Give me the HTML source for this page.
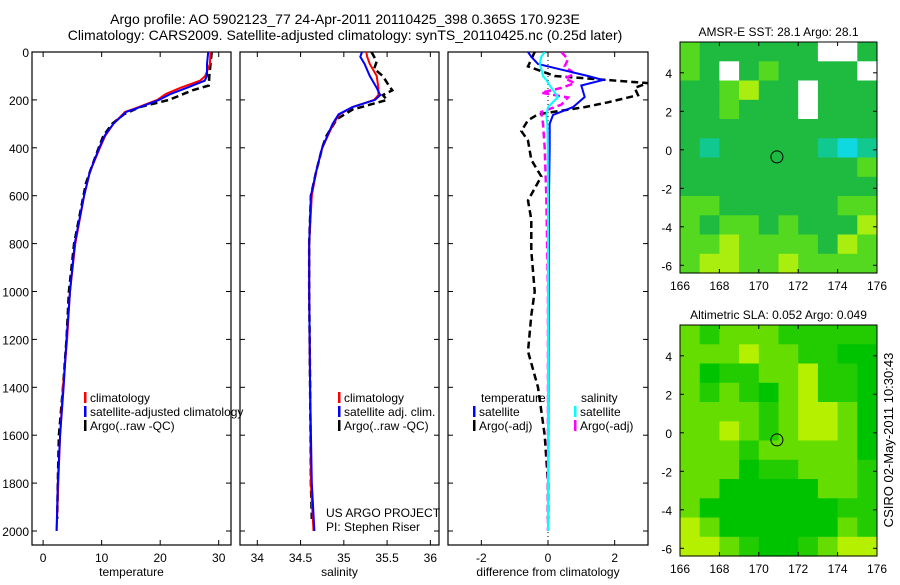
<!DOCTYPE html>
<html><head><meta charset="utf-8">
<style>
body{margin:0;background:#fff;}
svg text{font-family:"Liberation Sans",sans-serif;fill:#000;}
</style></head>
<body>
<svg id="fig" width="900" height="580" xmlns="http://www.w3.org/2000/svg">
<text x="345" y="24" font-size="14" text-anchor="middle">Argo profile: AO 5902123_77 24-Apr-2011 20110425_398 0.365S 170.923E</text>
<text x="345" y="40" font-size="14" text-anchor="middle">Climatology: CARS2009. Satellite-adjusted climatology: synTS_20110425.nc (0.25d later)</text>
<g id="plots"></g>
<text transform="translate(893,440) rotate(-90)" font-size="13" text-anchor="middle">CSIRO 02-May-2011 10:30:43</text>
</svg>
<script>
// ---------------- data ----------------
const depthT = [0,50,100,120,150,175,200,240,250,300,350,400,500,600,800,1000,1200,1400,1600,1800,2000];
const tempClim = [28.6,28.5,27.7,26.8,23.4,21,19.5,15.2,14,12,10.6,9.7,8,7,5.5,4.6,4.1,3.4,2.9,2.6,2.3];
const tempSat  = [28.2,28.0,28.0,27.6,24.5,21.8,19.8,15.4,14.2,12,10.5,9.6,8,7,5.4,4.6,4.0,3.5,2.9,2.5,2.3];
const depthA = [0,50,100,140,160,180,200,230,260,300,350,400,500,550,600,800,1000,1200,1400,1600,1800,1950];
const tempArgo = [28.8,28.6,28.4,28.3,25.5,23.5,21.5,16.5,13.8,11.8,10.3,9.5,8,7.3,6.9,5.3,4.4,4.0,3.4,2.7,2.5,2.4];

const depthS = [0,20,50,100,150,180,200,230,260,300,400,500,600,800,1000,1400,1800,2000];
const salClim = [35.26,35.27,35.3,35.38,35.4,35.4,35.35,35.1,34.95,34.88,34.75,34.68,34.63,34.6,34.6,34.61,34.62,34.65];
const salSat  = [35.21,35.19,35.24,35.3,35.38,35.42,35.36,35.1,34.94,34.87,34.75,34.68,34.62,34.6,34.6,34.61,34.63,34.66];
const depthSA = [0,40,70,100,140,160,180,200,220,240,280,350,400,500,600,800,1000,1400,1800,1950];
const salArgo = [35.32,35.38,35.35,35.45,35.52,35.56,35.45,35.5,35.3,35.1,34.92,34.8,34.75,34.68,34.62,34.6,34.6,34.61,34.62,34.63];

const depthD = [0,20,50,70,100,117,140,188,230,263,300,400,600,1000,1500,2000];
const dTempSat = [-0.6,-0.5,-0.3,0.3,1.2,1.65,1.0,1.1,0.75,0.15,0.05,0.05,0.03,0.02,0.01,0];
const dSalSat  = [-0.1,-0.2,-0.25,-0.2,-0.15,-0.05,0.05,0.3,0.0,-0.05,-0.02,-0.01,0,0,0,0];
const depthDA = [0,60,100,130,150,180,210,230,260,285,330,370,450,520,620,700,830,1000,1100,1250,1400,1600,1800,1950];
const dTempArgo = [-0.4,-0.6,0.2,3.0,2.6,2.7,1.8,1.1,-0.3,-0.6,-0.8,-0.6,-0.5,-0.2,-0.6,-0.5,-0.5,-0.4,-0.5,-0.6,-0.3,-0.1,0,0];
const depthDM = [0,30,60,90,110,130,150,170,190,220,250,300,400,600,1000,1500,2000];
const dSalArgo = [0.4,0.6,0.5,0.8,0.5,0.8,0.4,-0.2,0.6,0.4,-0.2,-0.15,-0.1,-0.05,0,0,0];

const yTicks = [0,200,400,600,800,1000,1200,1400,1600,1800,2000];
const tTicks = [0,10,20,30];
const sTicks = [34,34.5,35,35.5,36];
const sTickLabels = ["34","34.5","35","35.5","36"];
const dTicks = [-2,0,2];
const lonTicks = [166,168,170,172,174,176];
const latTicks = [4,2,0,-2,-4,-6];

const sstGrid = ["lggggggWWg","lgWglggggW","gglyggWggg","gglgggWggg","gggggggggg","gtgggggtct","gggggggggl","gggggggggg","llggggggll","lgllglgggy","llyllllgyl","lyyllyllll"];
const slaGrid = ["lglllggggg","lllyllggGG","lGggllyggG","lglgGlyggG","llllglyylG","llylglyylG","lllglllllG","lllGgglllg","llGGGGGllg","lGGGGGGGgg","ylGGGGGGlg","yylgGGglyy"];
const sstColors = {g:"#1fbb40",l:"#55d820",y:"#aaee10",t:"#10c890",c:"#10d8e0",W:"#ffffff"};
const slaColors = {l:"#66dd00",g:"#22cc00",G:"#00c300",y:"#b4f000"};
const floatPos = [170.92,-0.37];

// ---------------- drawing ----------------
const NS="http://www.w3.org/2000/svg";
const root=document.getElementById('plots');
function el(tag,attrs,parent){const e=document.createElementNS(NS,tag);for(const k in attrs)e.setAttribute(k,attrs[k]);(parent||root).appendChild(e);return e;}
function txt(x,y,s,size,anchor,parent){const t=el('text',{x:x,y:y,'font-size':size,'text-anchor':anchor||'start'},parent);t.textContent=s;return t;}

const Y0=52, Y1=545;
function yScale(d){return 52+d*0.2395;}

function panel(name,left,right,xmin,xmax,ticks,labels,xlabel,showY){
  const g=el('g',{});
  
  
  const xs=v=>left+(v-xmin)/(xmax-xmin)*(right-left);
  const r=el('rect',{x:left,y:Y0,width:right-left,height:Y1-Y0,fill:'none',stroke:'#000','stroke-width':1.2},g);
  
  
  ticks.forEach((v,i)=>{const x=xs(v);
    el('line',{x1:x,y1:Y1,x2:x,y2:Y1-5,stroke:'#000'},g);
    el('line',{x1:x,y1:Y0,x2:x,y2:Y0+5,stroke:'#000'},g);
    const t=txt(x,562,labels[i],12,'middle',g);
    
    
  });
  yTicks.forEach(v=>{const y=yScale(v);
    el('line',{x1:left,y1:y,x2:left+5,y2:y,stroke:'#000'},g);
    el('line',{x1:right,y1:y,x2:right-5,y2:y,stroke:'#000'},g);
    if(showY){const t=txt(left-3,y+5,String(v),12,'end',g);
      
      }
  });
  const xl=txt((left+right)/2,576,xlabel,12,'middle',g);
  
  
  const clip=el('clipPath',{id:'clip-'+name},g);
  el('rect',{x:left,y:Y0,width:right-left,height:Y1-Y0},clip);
  const lines=el('g',{'clip-path':'url(#clip-'+name+')'},g);
  return {xs:xs,g:g,lines:lines};
}
function series(p,depths,vals,color,dash,name){
  const pts=depths.map((d,i)=>p.xs(vals[i]).toFixed(1)+','+yScale(d).toFixed(1)).join(' ');
  const l=el('polyline',{points:pts,fill:'none',stroke:color,'stroke-width':dash?2.5:2,'stroke-dasharray':dash?'7,4':'none'},p.lines);
  
  
}
function legend(x,y,color,label,parent){
  const g=el('g',{},parent);
  
  
  el('rect',{x:x,y:y-10,width:2.5,height:11,fill:color},g);
  txt(x+6,y,label,12,'start',g);
}

const p1=panel('temperature-panel',32,231,-1.9,32.1,tTicks,tTicks.map(String),'temperature',true);
series(p1,depthA,tempArgo,'#000',true,'argo-temperature-line');
series(p1,depthT,tempClim,'#f00',false,'climatology-temperature-line');
series(p1,depthT,tempSat,'#00f',false,'satellite-temperature-line');
legend(84,402,'#f00','climatology',p1.g);
legend(84,416,'#00f','satellite-adjusted climatology',p1.g);
legend(84,430,'#000','Argo(..raw -QC)',p1.g);

const p2=panel('salinity-panel',240,439,33.8,36.1,sTicks,sTickLabels,'salinity',false);
series(p2,depthSA,salArgo,'#000',true,'argo-salinity-line');
series(p2,depthS,salClim,'#f00',false,'climatology-salinity-line');
series(p2,depthS,salSat,'#00f',false,'satellite-salinity-line');
legend(338,402,'#f00','climatology',p2.g);
legend(338,416,'#00f','satellite adj. clim.',p2.g);
legend(338,430,'#000','Argo(..raw -QC)',p2.g);
txt(326,517,'US ARGO PROJECT',12,'start',p2.g);
txt(326,531,'PI: Stephen Riser',12,'start',p2.g);

const p3=panel('difference-panel',448,648,-3,3,dTicks,dTicks.map(String),'difference from climatology',false);
el('line',{x1:p3.xs(0),y1:Y0,x2:p3.xs(0),y2:Y1,stroke:'#000','stroke-dasharray':'1,3'},p3.lines);
series(p3,depthDA,dTempArgo,'#000',true,'argo-temperature-diff-line');
series(p3,depthDM,dSalArgo,'#f0f',true,'argo-salinity-diff-line');
series(p3,depthD,dTempSat,'#00f',false,'satellite-temperature-diff-line');
series(p3,depthD,dSalSat,'#0ff',false,'satellite-salinity-diff-line');
txt(481,402,'temperature',12,'start',p3.g);
txt(581,402,'salinity',12,'start',p3.g);
legend(473,416,'#00f','satellite',p3.g);
legend(473,430,'#000','Argo(-adj)',p3.g);
legend(574,416,'#0ff','satellite',p3.g);
legend(574,430,'#f0f','Argo(-adj)',p3.g);

function map(name,top,bottom,grid,colors,title){
  const left=680,right=877,lat0=5.6,lat1=-6.4;
  const g=el('g',{});
  
  
  const xs=v=>left+(v-166)/10*(right-left);
  const ys=v=>top+(lat0-v)/(lat0-lat1)*(bottom-top);
  const rows=grid.length, cols=grid[0].length;
  for(let r=0;r<rows;r++)for(let c=0;c<cols;c++){
    const lo=166+c*10/cols, la=lat0-r*(lat0-lat1)/rows;
    const x=xs(lo), y=ys(la), w=xs(lo+10/cols)-x, h=ys(la-(lat0-lat1)/rows)-y;
    const cell=el('rect',{x:x.toFixed(1),y:y.toFixed(1),width:(w+0.5).toFixed(1),height:(h+0.5).toFixed(1),fill:colors[grid[r][c]]},g);
    
    
  }
  el('rect',{x:left,y:top,width:right-left,height:bottom-top,fill:'none',stroke:'#000'},g);
  lonTicks.forEach(v=>{const x=xs(v);el('line',{x1:x,y1:bottom,x2:x,y2:bottom-4,stroke:'#000'},g);el('line',{x1:x,y1:top,x2:x,y2:top+4,stroke:'#000'},g);
    const t=txt(x,bottom+17,String(v),12,'middle',g);
    
    });
  latTicks.forEach(v=>{const y=ys(v);el('line',{x1:left,y1:y,x2:left+4,y2:y,stroke:'#000'},g);el('line',{x1:right,y1:y,x2:right-4,y2:y,stroke:'#000'},g);
    const t=txt(left-8,y+5,String(v),12,'end',g);
    
    });
  const c=el('circle',{cx:xs(floatPos[0]),cy:ys(floatPos[1]),r:6,fill:'none',stroke:'#000'},g);
  
  
  const tt=txt((left+right)/2,top-6,title,12,'middle',g);
  
  
}
map('sst-map',42,273,sstGrid,sstColors,'AMSR-E SST: 28.1 Argo: 28.1');
map('sla-map',325,556,slaGrid,slaColors,'Altimetric SLA: 0.052 Argo: 0.049');
</script>
</body></html>
